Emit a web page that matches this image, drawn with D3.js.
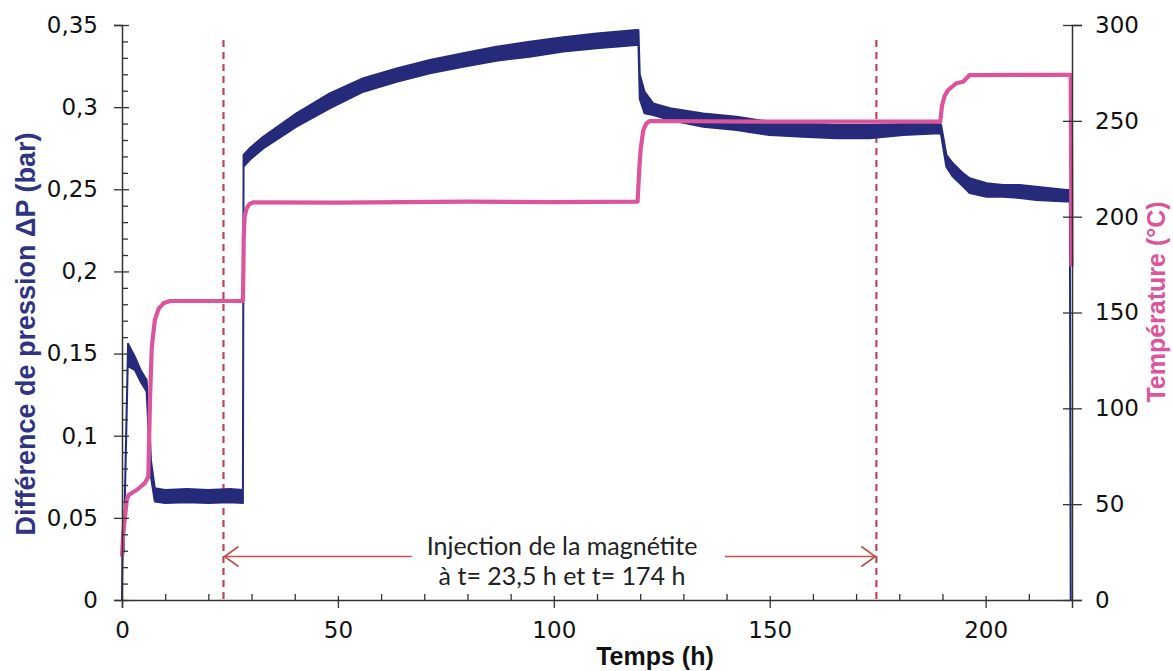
<!DOCTYPE html>
<html><head><meta charset="utf-8">
<script src="https://cdn.jsdelivr.net/npm/d3@7"></script>
<style>body{margin:0;background:#fff}svg{display:block}</style>
</head><body>
<svg id="c" width="1173" height="671"></svg>
<script>
// ---- data ----
const pressTime = [0,0.1,0.4,1.4,1.6,3.0,4.3,5.2,5.7,6.3,6.7,7.6,10,15,20,25,28.0,28.15,29.6,32.7,40.4,48.1,55.9,63.6,71.3,79.0,86.7,94.4,102.2,109.9,119.1,119.6,119.9,121,123,126.9,134.6,142.3,150,157.7,165.4,173.1,180.9,189.4,189.7,190.9,192.4,194.8,196.3,200.2,204,207.9,211.7,218.7,219.5,219.7];
const pressLow  = [0,0.026,0.03,0.152,0.142,0.140,0.133,0.129,0.127,0.095,0.075,0.060,0.059,0.0595,0.059,0.0595,0.059,0.2638,0.268,0.2749,0.2881,0.2993,0.3094,0.3155,0.3206,0.3246,0.3283,0.3307,0.3338,0.3358,0.3378,0.3378,0.305,0.2963,0.2952,0.2922,0.2881,0.2861,0.2830,0.2820,0.2810,0.2810,0.2830,0.2841,0.283,0.2637,0.2577,0.2516,0.2477,0.2455,0.2455,0.2447,0.2435,0.2425,0.2425,0];
const pressHigh = [0,0.027,0.03,0.156,0.155,0.148,0.140,0.136,0.134,0.110,0.085,0.068,0.067,0.0675,0.067,0.0675,0.067,0.2709,0.275,0.2820,0.2962,0.3084,0.3176,0.3236,0.3287,0.3328,0.3368,0.3398,0.3425,0.3449,0.3470,0.3470,0.320,0.3094,0.3023,0.2993,0.2962,0.2942,0.2911,0.2902,0.2891,0.2891,0.2897,0.2902,0.289,0.271,0.2658,0.2597,0.2567,0.2537,0.2526,0.2526,0.2516,0.2496,0.2496,0.002];

const tempTime = [0,0.3,1.1,1.5,3.4,5.3,6.1,6.5,6.9,7.6,8.5,9.6,11.1,28.0,28.1,28.2,28.4,28.8,29.5,30.4,50,80,100,119.4,119.8,120.1,120.7,121.4,122.2,150,189.5,189.9,190.5,191.3,193.2,194.8,196.3,219.7,219.9];
const tempVal  = [22.6,35,52,54.8,57.4,61,64.3,106,132,146,152,154.8,156,156,170,190,200,204,206.5,207.5,207.3,207.8,207.6,207.8,225,235,245,248.5,249.9,249.6,249.6,258,263,266,269.6,270.4,273.9,274,174];

const xTicksMajor = [0,50,100,150,200];
const xTicksMinor = [10,20,30,40,60,70,80,90,110,120,130,140,160,170,180,190,210];
const pTicksMajor = [0,0.05,0.1,0.15,0.2,0.25,0.3,0.35];
const pTickLabels = ["0","0,05","0,1","0,15","0,2","0,25","0,3","0,35"];
const pTicksMinor = [0.01,0.02,0.03,0.04,0.06,0.07,0.08,0.09,0.11,0.12,0.13,0.14,0.16,0.17,0.18,0.19,0.21,0.22,0.23,0.24,0.26,0.27,0.28,0.29,0.31,0.32,0.33,0.34];
const tTicks = [0,50,100,150,200,250,300];
const injectionTimes = [23.5,174.7];
const arrowEnds = [67.1,139.6];
const noteLines = ["Injection de la magnétite","à t= 23,5 h et t= 174 h"];

// ---- chart ----
const svg = d3.select("#c");
const navy = "#262a7a", pink = "#dc549c", red = "#b8485a", axisCol = "#333";
const x = d3.scaleLinear().domain([0,220]).range([122,1072]);
const yP = d3.scaleLinear().domain([0,0.35]).range([600,25]);
const yT = d3.scaleLinear().domain([0,300]).range([600,25]);
const font = "'DejaVu Sans', sans-serif";
const titleFont = "'Liberation Sans', Arial, sans-serif";

// injection dashed lines
svg.append("g").selectAll("line").data(injectionTimes).join("line")
  .attr("x1",d=>x(d)).attr("x2",d=>x(d)).attr("y1",40).attr("y2",600)
  .attr("stroke",red).attr("stroke-width",2.2).attr("stroke-dasharray","7,5");

// pressure band
const pdata = pressTime.map((t,i)=>({t,lo:pressLow[i],hi:pressHigh[i]}));
svg.append("path").datum(pdata)
  .attr("d", d3.area().x(d=>x(d.t)).y0(d=>yP(d.lo)).y1(d=>yP(d.hi)))
  .attr("fill",navy).attr("stroke",navy).attr("stroke-width",2).attr("stroke-linejoin","round");

// temperature
const tdata = tempTime.map((t,i)=>({t,v:tempVal[i]}));
svg.append("path").datum(tdata)
  .attr("d", d3.line().x(d=>x(d.t)).y(d=>yT(d.v)))
  .attr("fill","none").attr("stroke",pink).attr("stroke-width",4.2).attr("stroke-linejoin","round");

// axes
function styleAxis(g){ g.select(".domain").attr("stroke",axisCol).attr("stroke-width",1.5);
  g.selectAll(".tick line").attr("stroke",axisCol).attr("stroke-width",1.3);
  g.selectAll("text").attr("font-family",font).attr("font-size",23).attr("fill","#111"); }

const gx = svg.append("g").attr("transform","translate(0,600)")
  .call(d3.axisBottom(x).tickValues(xTicksMajor).tickSizeOuter(0).tickSize(8).tickFormat(d3.format("d")));
gx.selectAll(".tick line").attr("y1",-4);
gx.selectAll(".tick text").attr("y",22);
styleAxis(gx);
const gxm = svg.append("g").attr("transform","translate(0,600)")
  .call(d3.axisBottom(x).tickValues(xTicksMinor).tickSizeOuter(0).tickSize(-6).tickFormat(""));
styleAxis(gxm); gxm.select(".domain").remove();

const gy = svg.append("g").attr("transform","translate(122,0)")
  .call(d3.axisLeft(yP).tickValues(pTicksMajor).tickSizeOuter(0).tickSize(8).tickFormat((d,i)=>pTickLabels[i]));
gy.selectAll(".tick line").attr("x1",7);
gy.selectAll(".tick text").attr("x",-24);
styleAxis(gy);
const gym = svg.append("g").attr("transform","translate(122,0)")
  .call(d3.axisLeft(yP).tickValues(pTicksMinor).tickSizeOuter(0).tickSize(-6).tickFormat(""));
styleAxis(gym); gym.select(".domain").remove();

const gt = svg.append("g").attr("transform","translate(1072,0)")
  .call(d3.axisRight(yT).tickValues(tTicks).tickSizeOuter(0).tickSize(10).tickFormat(d3.format("d")));
gt.selectAll(".tick line").attr("x1",-9);
gt.selectAll(".tick text").attr("x",23);
styleAxis(gt);

// axis titles
svg.append("text").attr("x",655).attr("y",665).attr("text-anchor","middle")
  .attr("font-family",titleFont).attr("font-weight","bold").attr("font-size",25).attr("fill","#111").text("Temps (h)");
svg.append("text").attr("transform","translate(35,334) rotate(-90)").attr("text-anchor","middle")
  .attr("font-family",titleFont).attr("font-weight","bold").attr("font-size",27).attr("fill","#2f3482")
  .text("Différence de pression ΔP (bar)");
svg.append("text").attr("transform","translate(1165,302) rotate(-90)").attr("text-anchor","middle")
  .attr("font-family",titleFont).attr("font-weight","bold").attr("font-size",25).attr("fill",pink)
  .text("Température (°C)");

// annotation arrows
const ay = 556.5;
const arr = svg.append("g").attr("stroke","#c0504d").attr("stroke-width",1.7).attr("fill","none");
arr.append("line").attr("x1",x(injectionTimes[0])+1).attr("x2",x(arrowEnds[0])).attr("y1",ay).attr("y2",ay);
arr.append("polyline").attr("points",`${x(injectionTimes[0])+15},${ay-10} ${x(injectionTimes[0])+1},${ay} ${x(injectionTimes[0])+15},${ay+10}`);
arr.append("line").attr("x1",x(arrowEnds[1])).attr("x2",x(injectionTimes[1])-1).attr("y1",ay).attr("y2",ay);
arr.append("polyline").attr("points",`${x(injectionTimes[1])-15},${ay-10} ${x(injectionTimes[1])-1},${ay} ${x(injectionTimes[1])-15},${ay+10}`);

svg.append("g").selectAll("text").data(noteLines).join("text")
  .attr("x",562).attr("y",(d,i)=>555+i*30).attr("text-anchor","middle")
  .attr("font-family","Lato, 'Open Sans', sans-serif").attr("font-size",25).attr("fill","#222")
  .text(d=>d);
</script>
</body></html>
